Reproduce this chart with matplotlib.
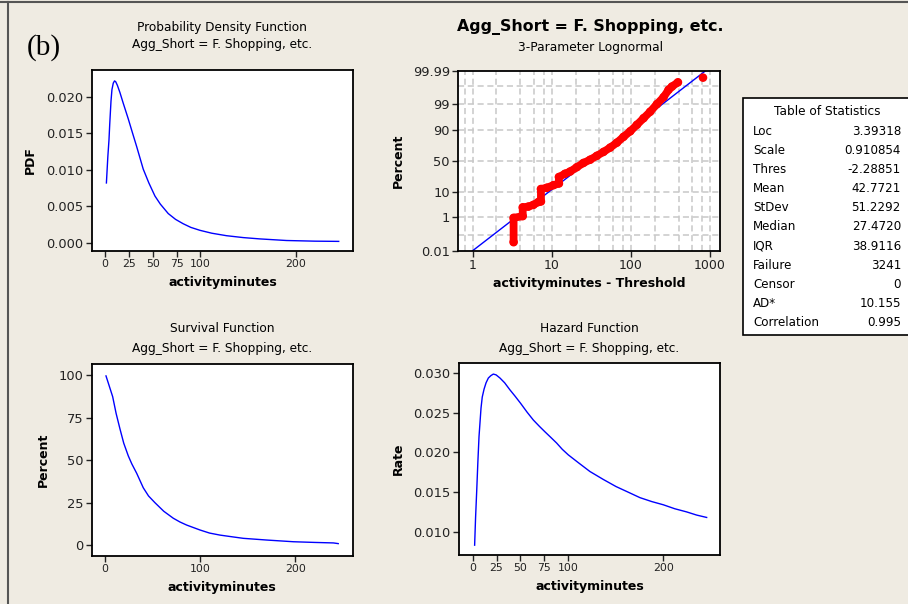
import numpy as np
import matplotlib
matplotlib.use('Agg')
import matplotlib.pyplot as plt
from matplotlib.patches import Rectangle
from matplotlib.lines import Line2D
from matplotlib.ticker import FixedLocator, NullFormatter
from statistics import NormalDist

plt.rcParams['font.family'] = ['DejaVu Sans']

# values
subgroup = 'Agg_Short = F. Shopping, etc.'

pdf_x = [1.5, 3, 4.2, 5, 6.3, 7.3, 8.7, 10, 11.2, 13, 15.7, 19, 24.4, 29, 33.2, 40.1, 46,
         52.4, 58, 66.3, 74, 82, 90, 99.5, 112, 127.4, 145, 162.3, 190.3, 220, 245]
pdf_y = [0.0082, 0.0118, 0.0141, 0.0163, 0.0194, 0.0210, 0.0219, 0.0222, 0.0221, 0.0216,
         0.0206, 0.0192, 0.0170, 0.0150, 0.0132, 0.0101, 0.0082, 0.0064, 0.0053, 0.0040,
         0.0032, 0.0026, 0.0021, 0.0017, 0.0013, 0.00096, 0.0007, 0.00052, 0.00030,
         0.00021, 0.00018]

surv_x = [1.4, 4, 8.4, 12, 16, 20, 24.8, 28.5, 33.6, 40.5, 46, 52.8, 62, 72, 79, 86, 100,
          110, 121, 135, 145.5, 170, 198, 220, 240, 245]
surv_y = [99.5, 95, 87.3, 77.5, 68.5, 60, 52.5, 47.8, 42.3, 33.8, 29.0, 25.0, 20.0, 15.9,
          13.7, 11.9, 9.0, 7.2, 6.0, 4.9, 4.1, 3.1, 2.1, 1.7, 1.4, 1.0]

haz_x = [2, 3, 4.2, 5.4, 6.6, 8.7, 10, 11.9, 14, 16.4, 19, 21.6, 24.5, 28.6, 33.5, 39.1,
         44.5, 50.3, 57, 63.6, 70, 75.9, 82, 88, 94, 100.3, 111, 123, 137, 150.4, 163,
         175.5, 188, 200, 212, 224.5, 235, 245.5]
haz_y = [0.0083, 0.0118, 0.0152, 0.0188, 0.0220, 0.0256, 0.0270, 0.0280, 0.0288, 0.0294,
         0.0297, 0.0299, 0.0298, 0.0294, 0.0288, 0.0279, 0.0271, 0.0262, 0.0251, 0.0241,
         0.0233, 0.0226, 0.0219, 0.0212, 0.0204, 0.0197, 0.0187, 0.0176, 0.0166, 0.0157,
         0.0150, 0.0143, 0.0138, 0.0134, 0.0129, 0.0125, 0.0121, 0.0118]

# probability plot: observed band (x - threshold, percent) and fitted line
band_x = [3.29, 3.29, 4.29, 4.29, 5.06, 5.85, 6.77, 7.29, 7.29, 8.65, 10.5, 12.3, 12.3,
          14.7, 17.1, 20.7, 25.1, 30.5, 37.1, 45, 54.7, 66.5, 80.6, 98, 119, 144.5,
          175, 213, 259, 299, 330, 393]
band_pct = [0.038, 0.91, 1.1, 2.7, 2.9, 3.4, 4.4, 4.6, 12.1, 13.2, 15.6, 17.3, 25,
            29.5, 32.8, 39.4, 46.3, 51.6, 58, 64.2, 70.6, 77.2, 83.8, 88.8, 93.1, 96.05,
            97.85, 99.03, 99.57, 99.83, 99.89, 99.94]
outlier_x = [815]
outlier_pct = [99.97]
fit_x = [1.0, 881]
fit_pct = [0.01, 99.99]

pct_ticks = [0.01, 1, 10, 50, 90, 99, 99.99]
pct_labels = ['0.01', '1', '10', '50', '90', '99', '99.99']
pct_grid = [0.1, 1, 10, 50, 90, 99, 99.9]
x_grid = [0.8, 1, 2, 4, 6, 8, 10, 20, 40, 60, 80, 100, 200, 400, 600, 800, 1000]

stats_names = ['Loc', 'Scale', 'Thres', 'Mean', 'StDev', 'Median', 'IQR',
               'Failure', 'Censor', 'AD*', 'Correlation']
stats_vals = ['3.39318', '0.910854', '-2.28851', '42.7721', '51.2292', '27.4720',
              '38.9116', '3241', '0', '10.155', '0.995']

W, H = 908, 604
bg = '#EFEBE2'
fig = plt.figure(figsize=(W / 100, H / 100), dpi=100, facecolor=bg)


def fx(px):
    return px / W


def fy(py):
    return 1 - py / H


def make_axes(l, t, r, b, xsize=7.8):
    ax = fig.add_axes([fx(l), fy(b), (r - l) / W, (b - t) / H])
    ax.set_facecolor('white')
    for s in ax.spines.values():
        s.set_color('black')
        s.set_linewidth(1.3)
    ax.tick_params(direction='out', length=4, width=1, pad=2, colors='#222222')
    ax.tick_params(axis='y', labelsize=9.4)
    ax.tick_params(axis='x', labelsize=xsize)
    return ax


def labels(ax, xl, yl, xly, ylx):
    ax.text(0.5, xly, xl, transform=ax.transAxes, ha='center', va='center',
            fontsize=9, fontweight='bold')
    ax.text(ylx, 0.5, yl, transform=ax.transAxes, ha='center', va='center',
            fontsize=9, fontweight='bold', rotation=90)


# PDF
ax1 = make_axes(92, 70, 353, 251)
ax1.plot(pdf_x, pdf_y, color='#0000FF', lw=1)
ax1.set_xlim(-13.6, 260)
ax1.set_ylim(-0.00114, 0.0237)
ax1.set_xticks([0, 25, 50, 75, 100, 200])
ax1.set_yticks([0, 0.005, 0.01, 0.015, 0.02])
ax1.set_yticklabels(['0.000', '0.005', '0.010', '0.015', '0.020'])
labels(ax1, 'activityminutes', 'PDF', -0.175, -0.238)
fig.text(fx(222), fy(27), 'Probability Density Function', ha='center', va='center', fontsize=8.7)
fig.text(fx(222), fy(44.5), subgroup, ha='center', va='center', fontsize=8.7)

# probability plot
nd = NormalDist()
_fwd = np.vectorize(lambda v: nd.inv_cdf(min(max(v, 1e-7), 100 - 1e-7) / 100), otypes=[float])
_inv = np.vectorize(lambda v: nd.cdf(v) * 100, otypes=[float])

ax2 = make_axes(458.3, 70.7, 720, 250.7, xsize=9)
ax2.set_xscale('log')
ax2.set_yscale('function', functions=(lambda p: _fwd(np.asarray(p, float)),
                                      lambda z: _inv(np.asarray(z, float))))
ax2.set_xlim(0.658, 1337)
ax2.set_ylim(0.01, 99.99)
ax2.set_xticks([1, 10, 100, 1000])
ax2.set_xticklabels(['1', '10', '100', '1000'])
ax2.xaxis.set_minor_locator(FixedLocator(x_grid))
ax2.xaxis.set_minor_formatter(NullFormatter())
ax2.yaxis.set_major_locator(FixedLocator(pct_ticks))
ax2.set_yticklabels(pct_labels)
ax2.yaxis.set_minor_locator(FixedLocator(pct_grid))
ax2.yaxis.set_minor_formatter(NullFormatter())
ax2.tick_params(which='minor', length=0)
for v in x_grid:
    ax2.axvline(v, color='#C8C8C8', lw=1.1, ls=(0, (4, 2.4)), zorder=0.5)
for v in pct_grid:
    ax2.axhline(v, color='#C8C8C8', lw=1.1, ls=(0, (4, 2.4)), zorder=0.5)
ax2.plot(fit_x, fit_pct, color='#0000FF', lw=1, zorder=2)
ax2.plot(band_x, band_pct, color='#FF0000', lw=5.6, solid_capstyle='round',
         solid_joinstyle='round', zorder=3)
ax2.scatter(band_x + outlier_x, band_pct + outlier_pct, s=38, color='#FF0000',
            edgecolors='none', zorder=3)
labels(ax2, 'activityminutes - Threshold', 'Percent', -0.185, -0.229)
fig.text(fx(590), fy(27.3), subgroup, ha='center', va='center', fontsize=11.4,
         fontweight='bold')
fig.text(fx(590), fy(47.7), '3-Parameter Lognormal', ha='center', va='center', fontsize=8.8)

# survival
ax3 = make_axes(91.7, 364, 352.7, 555.7)
ax3.plot(surv_x, surv_y, color='#0000FF', lw=1)
ax3.set_xlim(-13.6, 260.2)
ax3.set_ylim(-6.1, 106.5)
ax3.set_xticks([0, 100, 200])
ax3.set_yticks([0, 25, 50, 75, 100])
labels(ax3, 'activityminutes', 'Percent', -0.168, -0.185)
fig.text(fx(222), fy(329), 'Survival Function', ha='center', va='center', fontsize=8.7)
fig.text(fx(222), fy(348.3), subgroup, ha='center', va='center', fontsize=8.7)

# hazard
ax4 = make_axes(459, 363.3, 720, 555)
ax4.plot(haz_x, haz_y, color='#0000FF', lw=1)
ax4.set_xlim(-14.4, 259.5)
ax4.set_ylim(0.00706, 0.03126)
ax4.set_xticks([0, 25, 50, 75, 100, 200])
ax4.set_yticks([0.010, 0.015, 0.020, 0.025, 0.030])
ax4.set_yticklabels(['0.010', '0.015', '0.020', '0.025', '0.030'])
labels(ax4, 'activityminutes', 'Rate', -0.165, -0.233)
fig.text(fx(589.5), fy(329), 'Hazard Function', ha='center', va='center', fontsize=8.7)
fig.text(fx(589.5), fy(348.3), subgroup, ha='center', va='center', fontsize=8.7)

# table of statistics
fig.patches.append(Rectangle((fx(743), fy(335)), (915 - 743) / W, (335 - 98) / H,
                             transform=fig.transFigure, facecolor='white',
                             edgecolor='black', lw=1.2))
fig.text(fx(827), fy(111.5), 'Table of Statistics', ha='center', va='center', fontsize=8.7)
for i, (n, v) in enumerate(zip(stats_names, stats_vals)):
    yy = fy(131.7 + i * 19.05)
    fig.text(fx(753), yy, n, ha='left', va='center', fontsize=8.6)
    fig.text(fx(901), yy, v, ha='right', va='center', fontsize=8.6)

# panel letter and frame
fig.text(fx(44), fy(48), '(b)', ha='center', va='center', fontsize=21,
         family='Liberation Serif')
fig.lines.append(Line2D([0, 1], [fy(1.5), fy(1.5)], transform=fig.transFigure,
                        color='#555555', lw=1.5))
fig.lines.append(Line2D([fx(8.3), fx(8.3)], [0, fy(1.5)], transform=fig.transFigure,
                        color='#555555', lw=1.5))

fig.savefig('out.png', dpi=100, facecolor=bg)
